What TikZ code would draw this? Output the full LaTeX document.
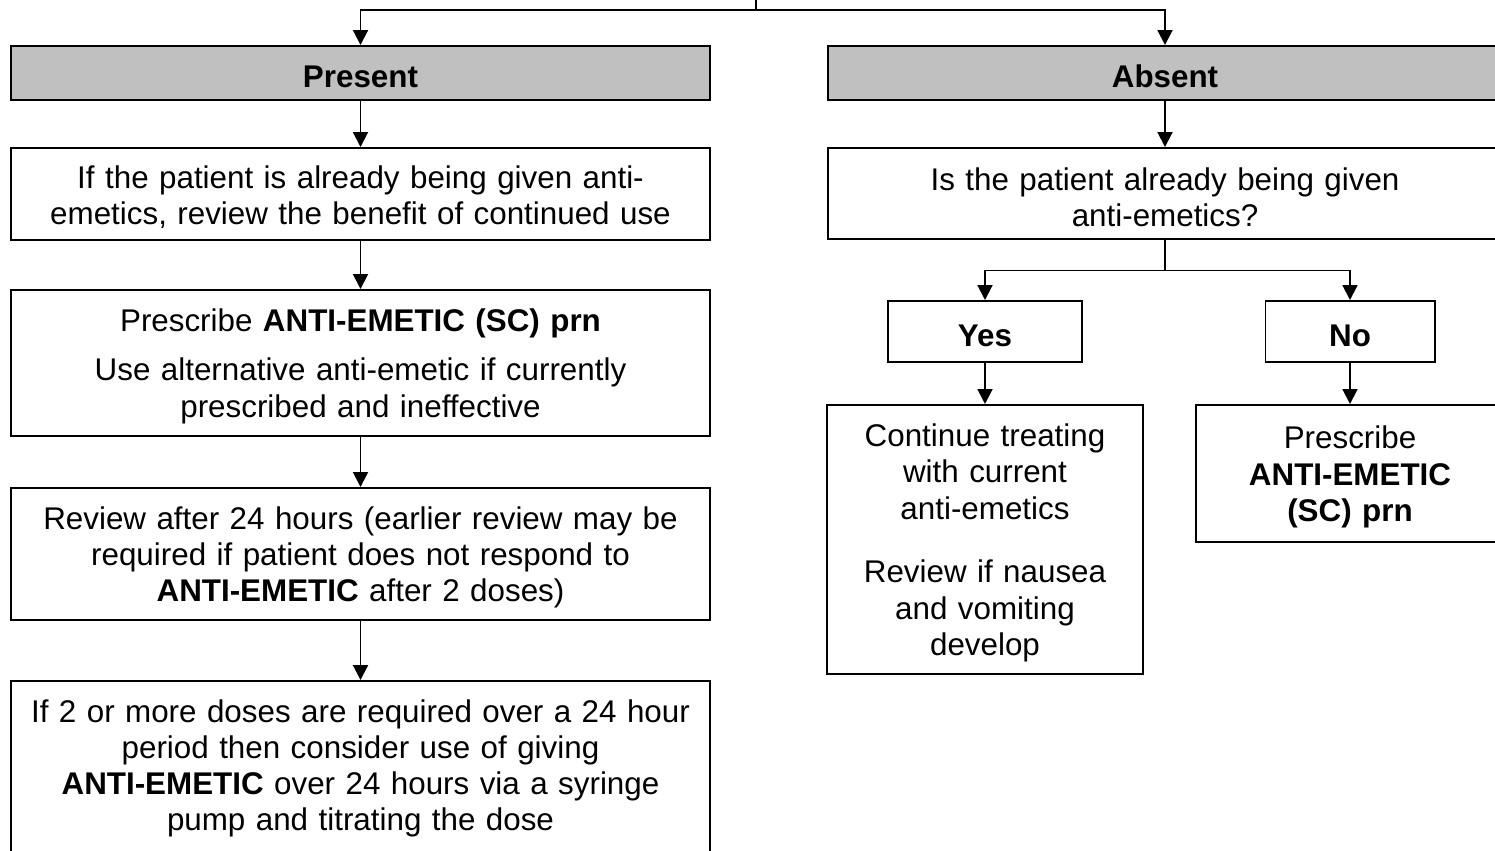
\documentclass[tikz,border=0pt]{standalone}
\usepackage{fontspec}
\setmainfont{Liberation Sans}
\usepackage{tikz}
\usetikzlibrary{arrows.meta}
\definecolor{headgray}{HTML}{C0C0C0}
\tikzset{
  pcstep/.style={draw, line width=1.4pt, inner xsep=0pt, inner ysep=0pt,
    font=\fontsize{22.3pt}{25.75pt}\selectfont},
  headstep/.style={pcstep, fill=headgray, font=\fontsize{22.3pt}{25.75pt}\selectfont\bfseries},
  pcarrow/.style={line width=1.4pt, -{Triangle[length=10.5pt,width=10.5pt]}},
  pcline/.style={line width=1.4pt}
}
\newcommand{\pctop}{\rule{0pt}{21pt}}
\newcommand{\pcstart}[2] {\coordinate (#2) at (#1)}
\newcommand{\pchead}[4] {\node at (#1) (#2) [headstep, align=center, text width=#3, minimum height=1.35cm] {\pctop#4}}
\newcommand{\pcbox}[5] {\node at (#1) (#2) [pcstep, align=center, text width=#3, minimum height=#4] {\pctop#5}}
\newcommand{\pclink}[2] {\draw [pcarrow] (#1) -- (#2)}
\newcommand{\pcfork}[2] {\draw [pcarrow] (#1) -| (#2)}

\begin{document}
\begin{tikzpicture}[x=0.025cm, y=-0.025cm]
\useasboundingbox (0,0) rectangle (1495,850);
\clip (0,0) rectangle (1495,850);

\pcstart {756,-20} {top};
\pcstart {756,10} {fork};
\pchead {360.5,73} {present} {17.475cm} {Present};
\pchead {1165,73} {absent} {16.85cm} {Absent};

% left column
\pcbox {360.5,194} {review} {17.475cm} {2.3cm}
  {If the patient is already being given anti-\\emetics, review the benefit of continued use};
\pcbox {360.5,363} {prescribe} {17.475cm} {3.65cm}
  {Prescribe \textbf{ANTI-EMETIC (SC) prn}\\[9pt]Use alternative anti-emetic if currently\\prescribed and ineffective};
\pcbox {360.5,554} {recheck} {17.475cm} {3.3cm}
  {Review after 24 hours (earlier review may be\\required if patient does not respond to\\\textbf{ANTI-EMETIC} after 2 doses)};
\node at (360.5,680) (pump) [pcstep, anchor=north, inner ysep=8.2pt, text width=17.475cm]
  {\parbox[t][5cm][t]{17.475cm}{\centering\pctop If 2 or more doses are required over a 24 hour\\period then consider use of giving\\\textbf{ANTI-EMETIC} over 24 hours via a syringe\\pump and titrating the dose}};

% right column
\pcbox {1165,193.5} {given} {16.85cm} {2.275cm}
  {Is the patient already being given\\anti-emetics?};
\pcstart {1165,270.5} {split};
\pcbox {985,331.5} {yes} {4.825cm} {1.525cm} {\textbf{Yes}};
\pcbox {1350,331.5} {no} {4.225cm} {1.525cm} {\textbf{No}};
\pcbox {985,539.5} {continue} {7.875cm} {6.725cm}
  {Continue treating\\with current\\anti-emetics\\[19.5pt]Review if nausea\\and vomiting\\develop};
\pcbox {1350,473.5} {prn} {7.7cm} {3.425cm}
  {Prescribe\\\textbf{ANTI-EMETIC}\\\textbf{(SC) prn}};

\draw [pcline] (top) -- (fork);
\pcfork{fork}{present};
\pcfork{fork}{absent};
\pclink{present}{review};
\pclink{review}{prescribe};
\pclink{prescribe}{recheck};
\pclink{recheck.south}{pump.north};

\pclink{absent}{given};
\draw [pcline] (given) -- (split);
\pcfork{split}{yes};
\pcfork{split}{no};
\pclink{yes}{continue};
\pclink{no}{prn};
\end{tikzpicture}
\end{document}
